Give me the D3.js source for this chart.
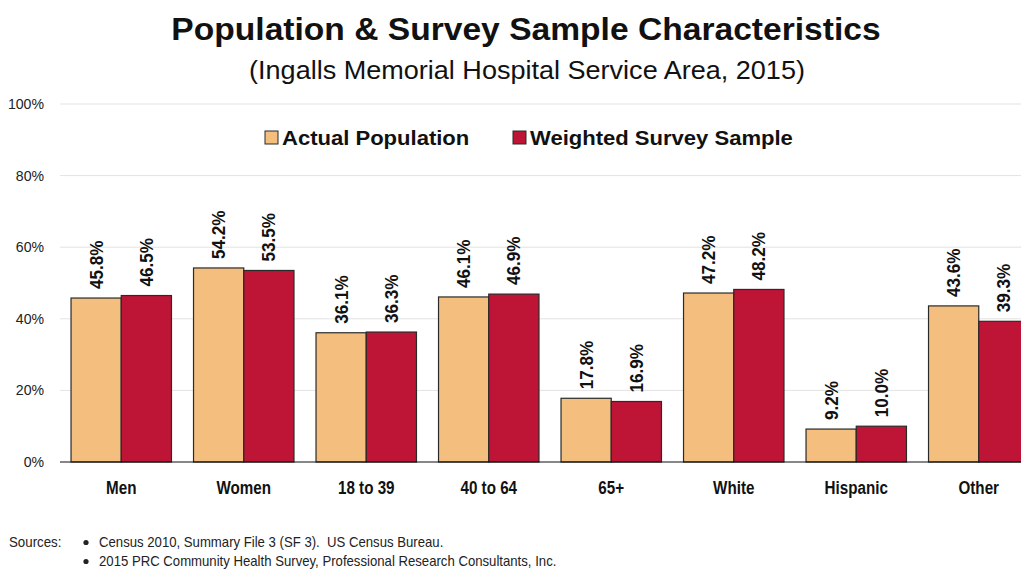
<!DOCTYPE html>
<meta charset="utf-8">
<title>Population & Survey Sample Characteristics</title>
<style>
body { margin: 0; background: #fff; }
svg { display: block; }
text { font-family: "Liberation Sans", Arial, sans-serif; }
</style>
<body>
<div id="container"></div>
<script src="https://d3js.org/d3.v7.min.js"></script>
<script>
var categories = ["Men", "Women", "18 to 39", "40 to 64", "65+", "White", "Hispanic", "Other"];
var seriesNames = ["Actual Population", "Weighted Survey Sample"];
var actual = [45.8, 54.2, 36.1, 46.1, 17.8, 47.2, 9.2, 43.6];
var weighted = [46.5, 53.5, 36.3, 46.9, 16.9, 48.2, 10.0, 39.3];
var yTicks = [0, 20, 40, 60, 80, 100];
var colors = ["#F4BE7E", "#BE1436"];
var sources = ["Census 2010, Summary File 3 (SF 3).  US Census Bureau.",
               "2015 PRC Community Health Survey, Professional Research Consultants, Inc."];

var width = 1021, height = 569;

var svg = d3.select("#container").append("svg")
    .attr("width", width)
    .attr("height", height);

// helper: text squeezed/stretched horizontally
function sx(x, y, s) { return "translate(" + x + "," + y + ") scale(" + s + ",1)"; }

var x = d3.scaleBand()
    .domain(categories)
    .range([60, 1040])
    .paddingInner(0.18)
    .paddingOuter(0.09);

var xs = d3.scaleBand()
    .domain([0, 1])
    .range([0, x.bandwidth()]);

var y = d3.scaleLinear()
    .domain([0, 100])
    .range([462, 104]);

// gridlines
svg.append("g")
  .selectAll("line")
  .data(yTicks.filter(function(d) { return d > 0; }))
  .enter().append("line")
    .attr("x1", 60).attr("x2", width)
    .attr("y1", function(d) { return y(d); })
    .attr("y2", function(d) { return y(d); })
    .attr("stroke", "#e3e3e3")
    .attr("stroke-width", 1);

// y tick labels
svg.append("g")
  .selectAll("text")
  .data(yTicks)
  .enter().append("text")
    .attr("transform", function(d) { return sx(44, y(d) + 5, 0.94); })
    .attr("text-anchor", "end")
    .attr("font-size", 15)
    .attr("fill", "#222")
    .text(function(d) { return d + "%"; });

// bars
var rows = categories.map(function(c, i) { return {cat: c, vals: [actual[i], weighted[i]]}; });

var grp = svg.append("g").selectAll("g")
  .data(rows)
  .enter().append("g")
    .attr("transform", function(d) { return "translate(" + x(d.cat) + ",0)"; });

grp.selectAll("rect")
  .data(function(d) { return d.vals; })
  .enter().append("rect")
    .attr("x", function(d, i) { return xs(i); })
    .attr("y", function(d) { return y(d); })
    .attr("width", xs.bandwidth())
    .attr("height", function(d) { return y(0) - y(d); })
    .attr("fill", function(d, i) { return colors[i]; })
    .attr("stroke", "#2a2a2a")
    .attr("stroke-width", 1.2);

grp.selectAll("text.val")
  .data(function(d) { return d.vals; })
  .enter().append("text")
    .attr("class", "val")
    .attr("transform", function(d, i) {
      return "translate(" + (xs(i) + xs.bandwidth() / 2 + 6.5) + "," + (y(d) - 9) + ") rotate(-90) scale(0.9,1)";
    })
    .attr("font-size", 19)
    .attr("font-weight", "bold")
    .attr("fill", "#111")
    .text(function(d) { return d.toFixed(1) + "%"; });

// baseline
svg.append("line")
    .attr("x1", 60).attr("x2", width)
    .attr("y1", y(0)).attr("y2", y(0))
    .attr("stroke", "#111")
    .attr("stroke-width", 1.2);

// category labels
svg.append("g")
  .selectAll("text")
  .data(categories)
  .enter().append("text")
    .attr("transform", function(d) { return sx(x(d) + x.bandwidth() / 2, 494, 0.8); })
    .attr("text-anchor", "middle")
    .attr("font-size", 19)
    .attr("font-weight", "bold")
    .attr("fill", "#111")
    .text(function(d) { return d; });

// title
svg.append("text")
    .attr("transform", sx(526, 40, 1.05))
    .attr("text-anchor", "middle")
    .attr("font-size", 32)
    .attr("font-weight", "bold")
    .attr("fill", "#111")
    .text("Population & Survey Sample Characteristics");

svg.append("text")
    .attr("transform", sx(527, 79, 1.04))
    .attr("text-anchor", "middle")
    .attr("font-size", 26)
    .attr("fill", "#111")
    .text("(Ingalls Memorial Hospital Service Area, 2015)");

// legend
var legendX = [265, 513];
var leg = svg.append("g").selectAll("g")
  .data(seriesNames)
  .enter().append("g")
    .attr("transform", function(d, i) { return "translate(" + legendX[i] + ",0)"; });

leg.append("rect")
    .attr("x", 0).attr("y", 131)
    .attr("width", 13).attr("height", 13)
    .attr("fill", function(d, i) { return colors[i]; })
    .attr("stroke", "#2a2a2a")
    .attr("stroke-width", 1);

leg.append("text")
    .attr("transform", sx(17, 145, 1.05))
    .attr("font-size", 21)
    .attr("font-weight", "bold")
    .attr("fill", "#111")
    .text(function(d) { return d; });

// sources
svg.append("text")
    .attr("transform", sx(9, 547, 0.95))
    .attr("font-size", 14)
    .attr("fill", "#222")
    .text("Sources:");

var src = svg.append("g").selectAll("g")
  .data(sources)
  .enter().append("g")
    .attr("transform", function(d, i) { return "translate(0," + (547 + i * 19) + ")"; });

src.append("circle")
    .attr("cx", 86).attr("cy", -4.5)
    .attr("r", 2.6)
    .attr("fill", "#222");

src.append("text")
    .attr("transform", sx(99, 0, 0.94))
    .attr("font-size", 14)
    .attr("fill", "#222")
    .style("white-space", "pre")
    .text(function(d) { return d; });
</script>
</body>
